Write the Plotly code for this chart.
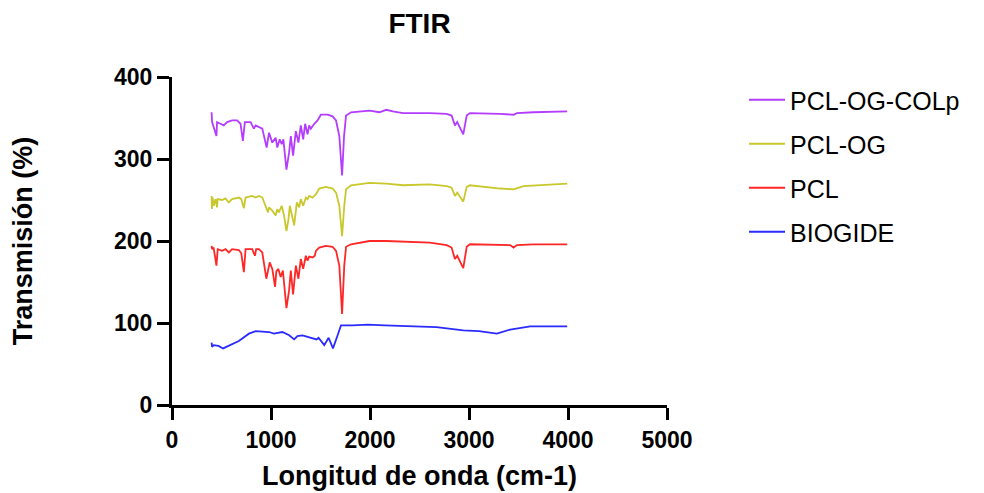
import plotly.graph_objects as go

# PCL-OG-COLp (purple)
colp_x = [400, 405, 449, 455, 489, 523, 557, 607, 658, 692, 716, 736, 794, 827, 845, 878, 912, 956, 980, 1013,
          1047, 1064, 1088, 1108, 1125, 1156, 1183, 1200, 1223, 1251, 1277, 1301, 1325, 1345, 1369, 1386, 1402,
          1437, 1470, 1504, 1572, 1622, 1657, 1690, 1718, 1738, 1758, 1809, 1995, 2096, 2164, 2231, 2333, 2604,
          2774, 2824, 2858, 2881, 2942, 2977, 3010, 3315, 3450, 3484, 3653, 3992]
colp_y = [357, 345, 328, 345, 343, 341, 345, 347, 347, 343, 322, 345, 345, 337, 341, 339, 337, 314, 332, 320,
          326, 314, 324, 318, 324, 287, 308, 328, 304, 334, 320, 341, 324, 343, 330, 341, 337,
          343, 347, 354, 354, 352, 347, 328, 280, 328, 353, 357, 359, 357, 360, 358, 356, 356,
          355, 353, 341, 345, 330, 353, 356, 355, 354, 356, 357, 358]

# PCL-OG (yellow)
og_x = [400, 403, 410, 421, 439, 455, 460, 506, 540, 574, 607, 675, 700, 726, 743, 810, 845, 878, 912, 946,
        970, 980, 1013, 1047, 1064, 1080, 1108, 1132, 1156, 1176, 1190, 1234, 1250, 1261, 1284, 1301, 1325,
        1352, 1369, 1386, 1420, 1454, 1487, 1555, 1622, 1657, 1690, 1718, 1740, 1758, 1809, 1995, 2164, 2333,
        2604, 2774, 2824, 2858, 2881, 2942, 2977, 3010, 3315, 3450, 3551, 3700, 3992]
og_y = [255, 239, 253, 243, 251, 241, 251, 250, 252, 247, 251, 253, 251, 240, 253, 255, 253, 255, 253, 243,
        235, 241, 237, 231, 239, 235, 243, 231, 212, 226, 243, 219, 239, 247, 241, 251, 243,
        253, 251, 255, 253, 257, 264, 266, 264, 259, 243, 206, 243, 263, 268, 271, 270, 268,
        269, 267, 265, 255, 259, 248, 266, 268, 264, 263, 267, 268, 270]

# PCL (red)
pcl_x = [400, 405, 420, 449, 462, 506, 540, 574, 607, 675, 700, 726, 743, 810, 838, 850, 878, 912, 953, 970,
         987, 1013, 1041, 1054, 1074, 1098, 1120, 1156, 1183, 1200, 1223, 1251, 1277, 1301, 1325, 1352, 1369,
         1386, 1420, 1442, 1454, 1487, 1555, 1622, 1657, 1690, 1718, 1740, 1758, 1809, 1995, 2164, 2333, 2604,
         2774, 2824, 2858, 2881, 2942, 2977, 3010, 3416, 3450, 3484, 3653, 3992]
pcl_y = [194, 190, 192, 170, 190, 188, 190, 186, 190, 189, 185, 162, 190, 190, 182, 190, 190, 186, 154, 166,
         174, 166, 144, 163, 166, 156, 164, 118, 140, 164, 135, 170, 154, 178, 166, 182, 176,
         181, 180, 182, 188, 192, 194, 193, 188, 170, 111, 170, 193, 196, 200, 200, 199, 198,
         195, 192, 178, 182, 167, 193, 196, 195, 192, 195, 196, 196]

# BIOGIDE (blue)
bio_x = [400, 405, 421, 470, 516, 574, 675, 777, 845, 980, 1030, 1115, 1183, 1234, 1267, 1318, 1370, 1419,
         1460, 1480, 1538, 1582, 1626, 1673, 1707, 1825, 1978, 2150, 2333, 2672, 2942, 3100, 3282, 3416, 3619, 3992]
bio_y = [76, 71, 73, 72, 69, 72, 78, 87, 90, 89, 87, 89, 85, 80, 84, 85, 83, 81,
         80, 82, 73, 82, 69, 85, 97, 97, 98, 97, 96, 95, 91, 90, 87, 92, 96, 96]

series_names = ["PCL-OG-COLp", "PCL-OG", "PCL", "BIOGIDE"]
series_colors = ["#B43CFF", "#C8C82D", "#FF2626", "#2B2BFF"]
series_data = [(colp_x, colp_y), (og_x, og_y), (pcl_x, pcl_y), (bio_x, bio_y)]

x_ticks = [0, 1000, 2000, 3000, 4000, 5000]
y_ticks = [0, 100, 200, 300, 400]

FONT = "Arial, Liberation Sans, sans-serif"

fig = go.Figure()
for name, color, (xs, ys) in zip(series_names, series_colors, series_data):
    fig.add_trace(go.Scatter(x=xs, y=ys, mode="lines", name=name, legendgroup=name,
                             line=dict(color=color, width=1.8)))

axis_common = dict(showline=True, linecolor="black", linewidth=3, ticks="outside", ticklen=12,
                   tickwidth=3, tickcolor="black", showgrid=False, zeroline=False, automargin=False,
                   tickfont=dict(family=FONT, size=23, color="black", weight="bold"))

fig.update_layout(
    width=984, height=493,
    margin=dict(l=164, r=325, t=69, b=96, autoexpand=False),
    plot_bgcolor="white", paper_bgcolor="white",
    title=dict(text="<b>FTIR</b>", x=0.5, xref="paper", y=1 - 15 / 493, yref="container",
               yanchor="middle", xanchor="center", font=dict(family=FONT, size=28, color="black")),
    xaxis=dict(range=[0, 5000], tickvals=x_ticks,
               title=dict(text="<b>Longitud de onda (cm-1)</b>", standoff=15,
                          font=dict(family=FONT, size=27, color="black")), **axis_common),
    yaxis=dict(range=[0, 400], tickvals=y_ticks,
               title=dict(text="<b>Transmisión (%)</b>", standoff=76,
                          font=dict(family=FONT, size=27, color="black")), **axis_common),
    legend=dict(x=1.1556, xanchor="left", y=1.0, yanchor="top", tracegroupgap=8.5, itemwidth=36,
                font=dict(family=FONT, size=25, color="black"), bgcolor="rgba(0,0,0,0)"),
    showlegend=True,
)

fig.write_html("out.html")
